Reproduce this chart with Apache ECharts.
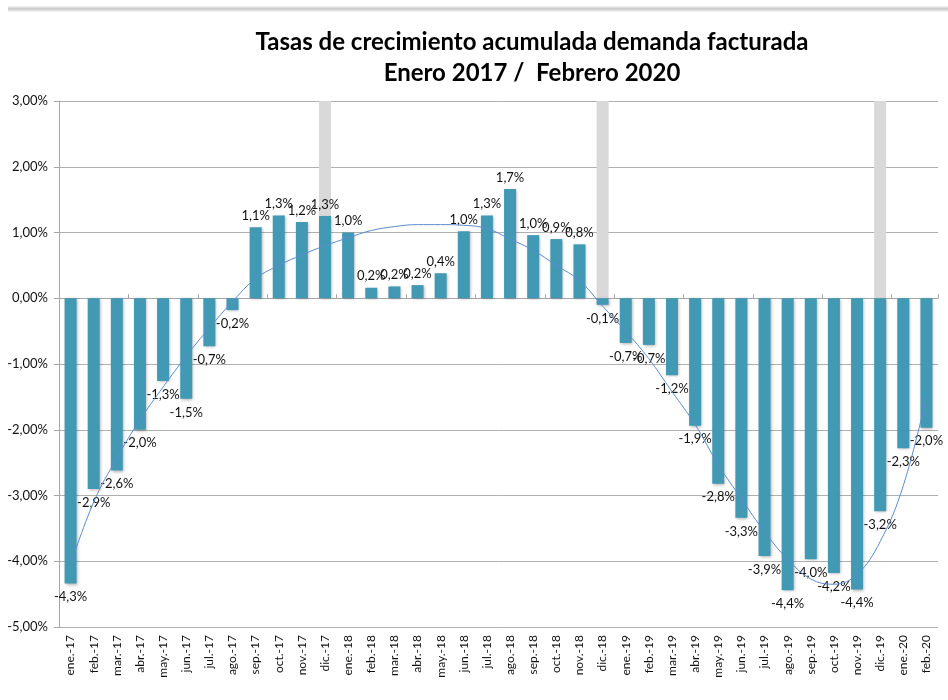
<!DOCTYPE html>
<html>
<head>
<meta charset="utf-8">
<title>Tasas de crecimiento acumulada demanda facturada</title>
<script src="https://cdn.jsdelivr.net/npm/echarts@6/dist/echarts.min.js"></script>
<style>
  html, body { margin: 0; padding: 0; background: #fff; }
  #main { width: 948px; height: 700px; }
</style>
</head>
<body>
<div id="main"></div>
<script>
// meses (eje x)
var meses = ['ene.-17','feb.-17','mar.-17','abr.-17','may.-17','jun.-17','jul.-17','ago.-17','sep.-17','oct.-17','nov.-17','dic.-17',
             'ene.-18','feb.-18','mar.-18','abr.-18','may.-18','jun.-18','jul.-18','ago.-18','sep.-18','oct.-18','nov.-18','dic.-18',
             'ene.-19','feb.-19','mar.-19','abr.-19','may.-19','jun.-19','jul.-19','ago.-19','sep.-19','oct.-19','nov.-19','dic.-19',
             'ene.-20','feb.-20'];

// tasa de crecimiento acumulada (%)
var tasas = [-4.34,-2.90,-2.62,-2.00,-1.26,-1.53,-0.73,-0.18,1.08,1.26,1.16,1.25,
             1.00,0.16,0.18,0.20,0.38,1.02,1.26,1.66,0.96,0.90,0.82,-0.10,
             -0.68,-0.71,-1.17,-1.94,-2.82,-3.34,-3.92,-4.44,-3.97,-4.18,-4.43,-3.24,
             -2.28,-1.97];

// linea de tendencia
var tendencia = [-4.05,-3.10,-2.43,-1.85,-1.35,-0.88,-0.45,-0.05,0.30,0.50,0.66,0.80,
                 0.92,1.03,1.09,1.12,1.12,1.11,1.06,0.90,0.73,0.50,0.27,-0.12,
                 -0.50,-0.92,-1.42,-1.92,-2.53,-3.05,-3.55,-3.97,-4.27,-4.35,-4.20,-3.70,
                 -2.85,-1.50];

// marcas de fin de año (barras grises)
var finAnio = ['-','-','-','-','-','-','-','-','-','-','-',3,
               '-','-','-','-','-','-','-','-','-','-','-',3,
               '-','-','-','-','-','-','-','-','-','-','-',3,
               '-','-'];

var yTicks = { min: -5, max: 3, interval: 1 };

var FONT = 'Lato';

function fmtPct(v, dec) {
    return v.toFixed(dec).replace('.', ',') + '%';
}

var chart = echarts.init(document.getElementById('main'));

var option = {
    backgroundColor: '#ffffff',
    animation: false,
    title: {
        text: 'Tasas de crecimiento acumulada demanda facturada\nEnero 2017 /  Febrero 2020',
        left: 527,
        top: 22,
        textAlign: 'center',
        textStyle: {
            fontFamily: FONT,
            fontWeight: 'bold',
            fontSize: 24,
            lineHeight: 31,
            color: '#000'
        }
    },
    graphic: [
        {
            type: 'rect',
            left: 8, top: 6,
            shape: { width: 940, height: 6 },
            style: {
                fill: new echarts.graphic.LinearGradient(0, 0, 0, 1, [
                    { offset: 0, color: 'rgba(200,200,200,0.2)' },
                    { offset: 0.5, color: 'rgba(190,190,190,0.9)' },
                    { offset: 1, color: 'rgba(220,220,220,0.2)' }
                ])
            },
            silent: true
        }
    ],
    grid: {
        left: 59,
        right: 10,
        top: 101,
        bottom: 73,
        containLabel: false
    },
    xAxis: [
        {
            type: 'category',
            data: meses,
            position: 'bottom',
            axisLine: { show: false, onZero: false },
            axisTick: { show: false },
            axisLabel: {
                rotate: 90,
                interval: 0,
                margin: 8,
                fontFamily: FONT,
                fontSize: 12,
                color: '#111'
            }
        },
        {
            type: 'category',
            data: meses,
            position: 'bottom',
            axisLine: { show: true, onZero: true, lineStyle: { color: '#a6a6a6', width: 1 } },
            axisTick: { show: true, inside: true, length: 4, lineStyle: { color: '#a6a6a6' } },
            axisLabel: { show: false }
        }
    ],
    yAxis: {
        type: 'value',
        min: yTicks.min,
        max: yTicks.max,
        interval: yTicks.interval,
        axisLine: { show: true, lineStyle: { color: '#a6a6a6' } },
        axisTick: { show: true, length: 5, lineStyle: { color: '#a6a6a6' } },
        splitLine: { show: true, lineStyle: { color: '#b0b0b0', width: 1 } },
        axisLabel: {
            fontFamily: FONT,
            fontSize: 13,
            color: '#111',
            margin: 11,
            formatter: function (v) { return fmtPct(v, 2); }
        }
    },
    series: [
        {
            name: 'fin de año',
            type: 'bar',
            data: finAnio,
            barWidth: 12,
            barGap: '-100%',
            itemStyle: { color: '#d9d9d9' },
            silent: true
        },
        {
            name: 'Tasa acumulada',
            type: 'bar',
            data: tasas.map(function (v) {
                return {
                    value: v,
                    label: { position: v >= 0 ? 'top' : 'bottom', distance: v >= 0 ? 5 : 7 }
                };
            }),
            barWidth: 12,
            barGap: '-100%',
            itemStyle: {
                color: '#4299b4',
                shadowColor: 'rgba(0,0,0,0.3)',
                shadowBlur: 3,
                shadowOffsetX: 1,
                shadowOffsetY: 1
            },
            label: {
                show: true,
                fontFamily: FONT,
                fontSize: 13,
                color: '#111',
                formatter: function (p) { return fmtPct(p.value, 1); }
            }
        },
        {
            name: 'Tendencia',
            type: 'line',
            data: tendencia,
            smooth: 0.4,
            symbol: 'none',
            lineStyle: { color: '#5b8ccf', width: 1 },
            z: 5
        }
    ]
};

chart.setOption(option);
</script>
</body>
</html>
